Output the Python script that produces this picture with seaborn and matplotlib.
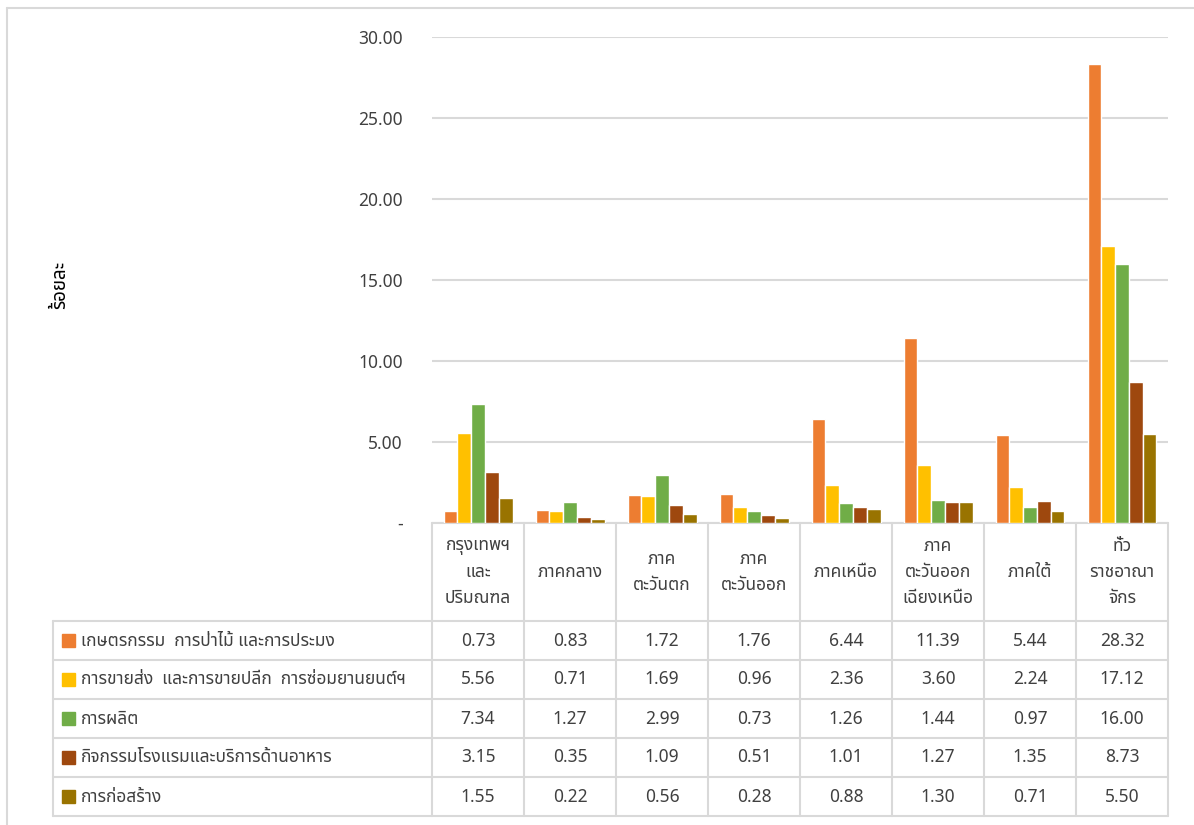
import numpy as np
import pandas as pd
import matplotlib
matplotlib.use("Agg")
import matplotlib.pyplot as plt
from matplotlib import font_manager as fm
from matplotlib.ft2font import FT2Font
import seaborn as sns

# ---- data ----
regions = ["กรุงเทพฯ\nและ\nปริมณฑล", "ภาคกลาง", "ภาค\nตะวันตก", "ภาค\nตะวันออก",
           "ภาคเหนือ", "ภาค\nตะวันออก\nเฉียงเหนือ", "ภาคใต้", "ทั่ว\nราชอาณา\nจักร"]
sectors = ["เกษตรกรรม  การป่าไม้ และการประมง",
           "การขายส่ง  และการขายปลีก  การซ่อมยานยนต์ฯ",
           "การผลิต",
           "กิจกรรมโรงแรมและบริการด้านอาหาร",
           "การก่อสร้าง"]
agriculture = [0.73, 0.83, 1.72, 1.76, 6.44, 11.39, 5.44, 28.32]
trade = [5.56, 0.71, 1.69, 0.96, 2.36, 3.60, 2.24, 17.12]
manufacturing = [7.34, 1.27, 2.99, 0.73, 1.26, 1.44, 0.97, 16.00]
hotels = [3.15, 0.35, 1.09, 0.51, 1.01, 1.27, 1.35, 8.73]
construction = [1.55, 0.22, 0.56, 0.28, 0.88, 1.30, 0.71, 5.50]
colors = ["#ED7D31", "#FFC000", "#70AD47", "#9E480E", "#997300"]
y_ticks = [0, 5, 10, 15, 20, 25, 30]


def find_thai_font():
    """Look for an installed font that has Thai glyphs."""
    preferred = ["Noto Sans Thai", "Noto Sans Thai UI", "Loma", "Garuda",
                 "Sarabun", "Tlwg Typo", "Norasi", "Kinnari"]
    found = {}
    for path in fm.findSystemFonts():
        try:
            if 0x0E01 in FT2Font(path).get_charmap():
                fm.fontManager.addfont(path)
                found[fm.FontProperties(fname=path).get_name()] = path
        except Exception:
            pass
    for p in preferred:
        if p in found:
            return p
    return sorted(found)[0] if found else None


sns.set_theme(style="white")
thai = find_thai_font()
plt.rcParams['font.family'] = ([thai] if thai else []) + ['DejaVu Sans']

values = [agriculture, trade, manufacturing, hotels, construction]
df = pd.DataFrame({
    "region": np.repeat(regions, len(sectors)),
    "sector": sectors * len(regions),
    "value": np.array(values).T.ravel(),
})

W, H = 1194, 825
fig = plt.figure(figsize=(W / 100, H / 100), dpi=100)

# overlay in pixel coordinates for border + table
ov = fig.add_axes([0, 0, 1, 1])
ov.set_xlim(0, W)
ov.set_ylim(H, 0)
ov.axis("off")

x0, x1, top, bottom = 432, 1168, 37, 523
ax = fig.add_axes([x0 / W, 1 - bottom / H, (x1 - x0) / W, (bottom - top) / H])
sns.barplot(data=df, x="region", y="value", hue="sector", order=regions,
            hue_order=sectors, palette=colors, saturation=1, width=0.75,
            edgecolor="white", linewidth=1, legend=False, ax=ax)
ax.set_ylim(0, 30)
ax.set_xlim(-0.5, len(regions) - 0.5)
ax.set_yticks(y_ticks)
ax.set_yticklabels(["-" if t == 0 else f"{t:.2f}" for t in y_ticks],
                   fontsize=12.5, color="#404040")
ax.tick_params(axis="y", length=0, pad=21)
ax.set_xticks([])
ax.set_xlabel("")
ax.set_ylabel("")
ax.yaxis.grid(True, color="#D9D9D9", linewidth=1.5)
ax.set_axisbelow(True)
for s in ax.spines.values():
    s.set_visible(False)
ax.patch.set_alpha(0)

fig.text(60 / W, 1 - 285 / H, "ร้อยละ", rotation=90, ha="center", va="center",
         fontsize=13.5, fontweight="bold", color="black")

# outer frame (only top and left visible)
lc = "#D9D9D9"
ov.plot([7, W], [8, 8], color=lc, lw=1.5)
ov.plot([7, 7], [8, H], color=lc, lw=1.5)

# table
col_w = (x1 - x0) / len(regions)
col_edges = [x0 + col_w * i for i in range(len(regions) + 1)]
row_edges = [621, 660, 699, 738, 777, 816]
tleft = 53
ov.plot([x0, x1], [bottom, bottom], color=lc, lw=1.5)
for xe in col_edges:
    ov.plot([xe, xe], [bottom, row_edges[-1]], color=lc, lw=1.5)
ov.plot([tleft, tleft], [row_edges[0], row_edges[-1]], color=lc, lw=1.5)
for ye in row_edges:
    ov.plot([tleft, x1], [ye, ye], color=lc, lw=1.5)

txt_c = "#404040"
for i, r in enumerate(regions):
    ov.text(x0 + col_w * (i + 0.5), (bottom + row_edges[0]) / 2, r, ha="center",
            va="center", fontsize=12.5, color=txt_c, linespacing=1.55)

for j, (s, vals) in enumerate(zip(sectors, values)):
    yc = (row_edges[j] + row_edges[j + 1]) / 2
    ov.add_patch(plt.Rectangle((62, yc - 7), 13, 13, color=colors[j]))
    ov.text(81, yc, s, ha="left", va="center", fontsize=12.5, color=txt_c)
    for i, v in enumerate(vals):
        ov.text(x0 + col_w * (i + 0.5), yc, f"{v:.2f}", ha="center",
                va="center", fontsize=12.5, color=txt_c)

fig.savefig("out.png", dpi=100)
plt.close(fig)
